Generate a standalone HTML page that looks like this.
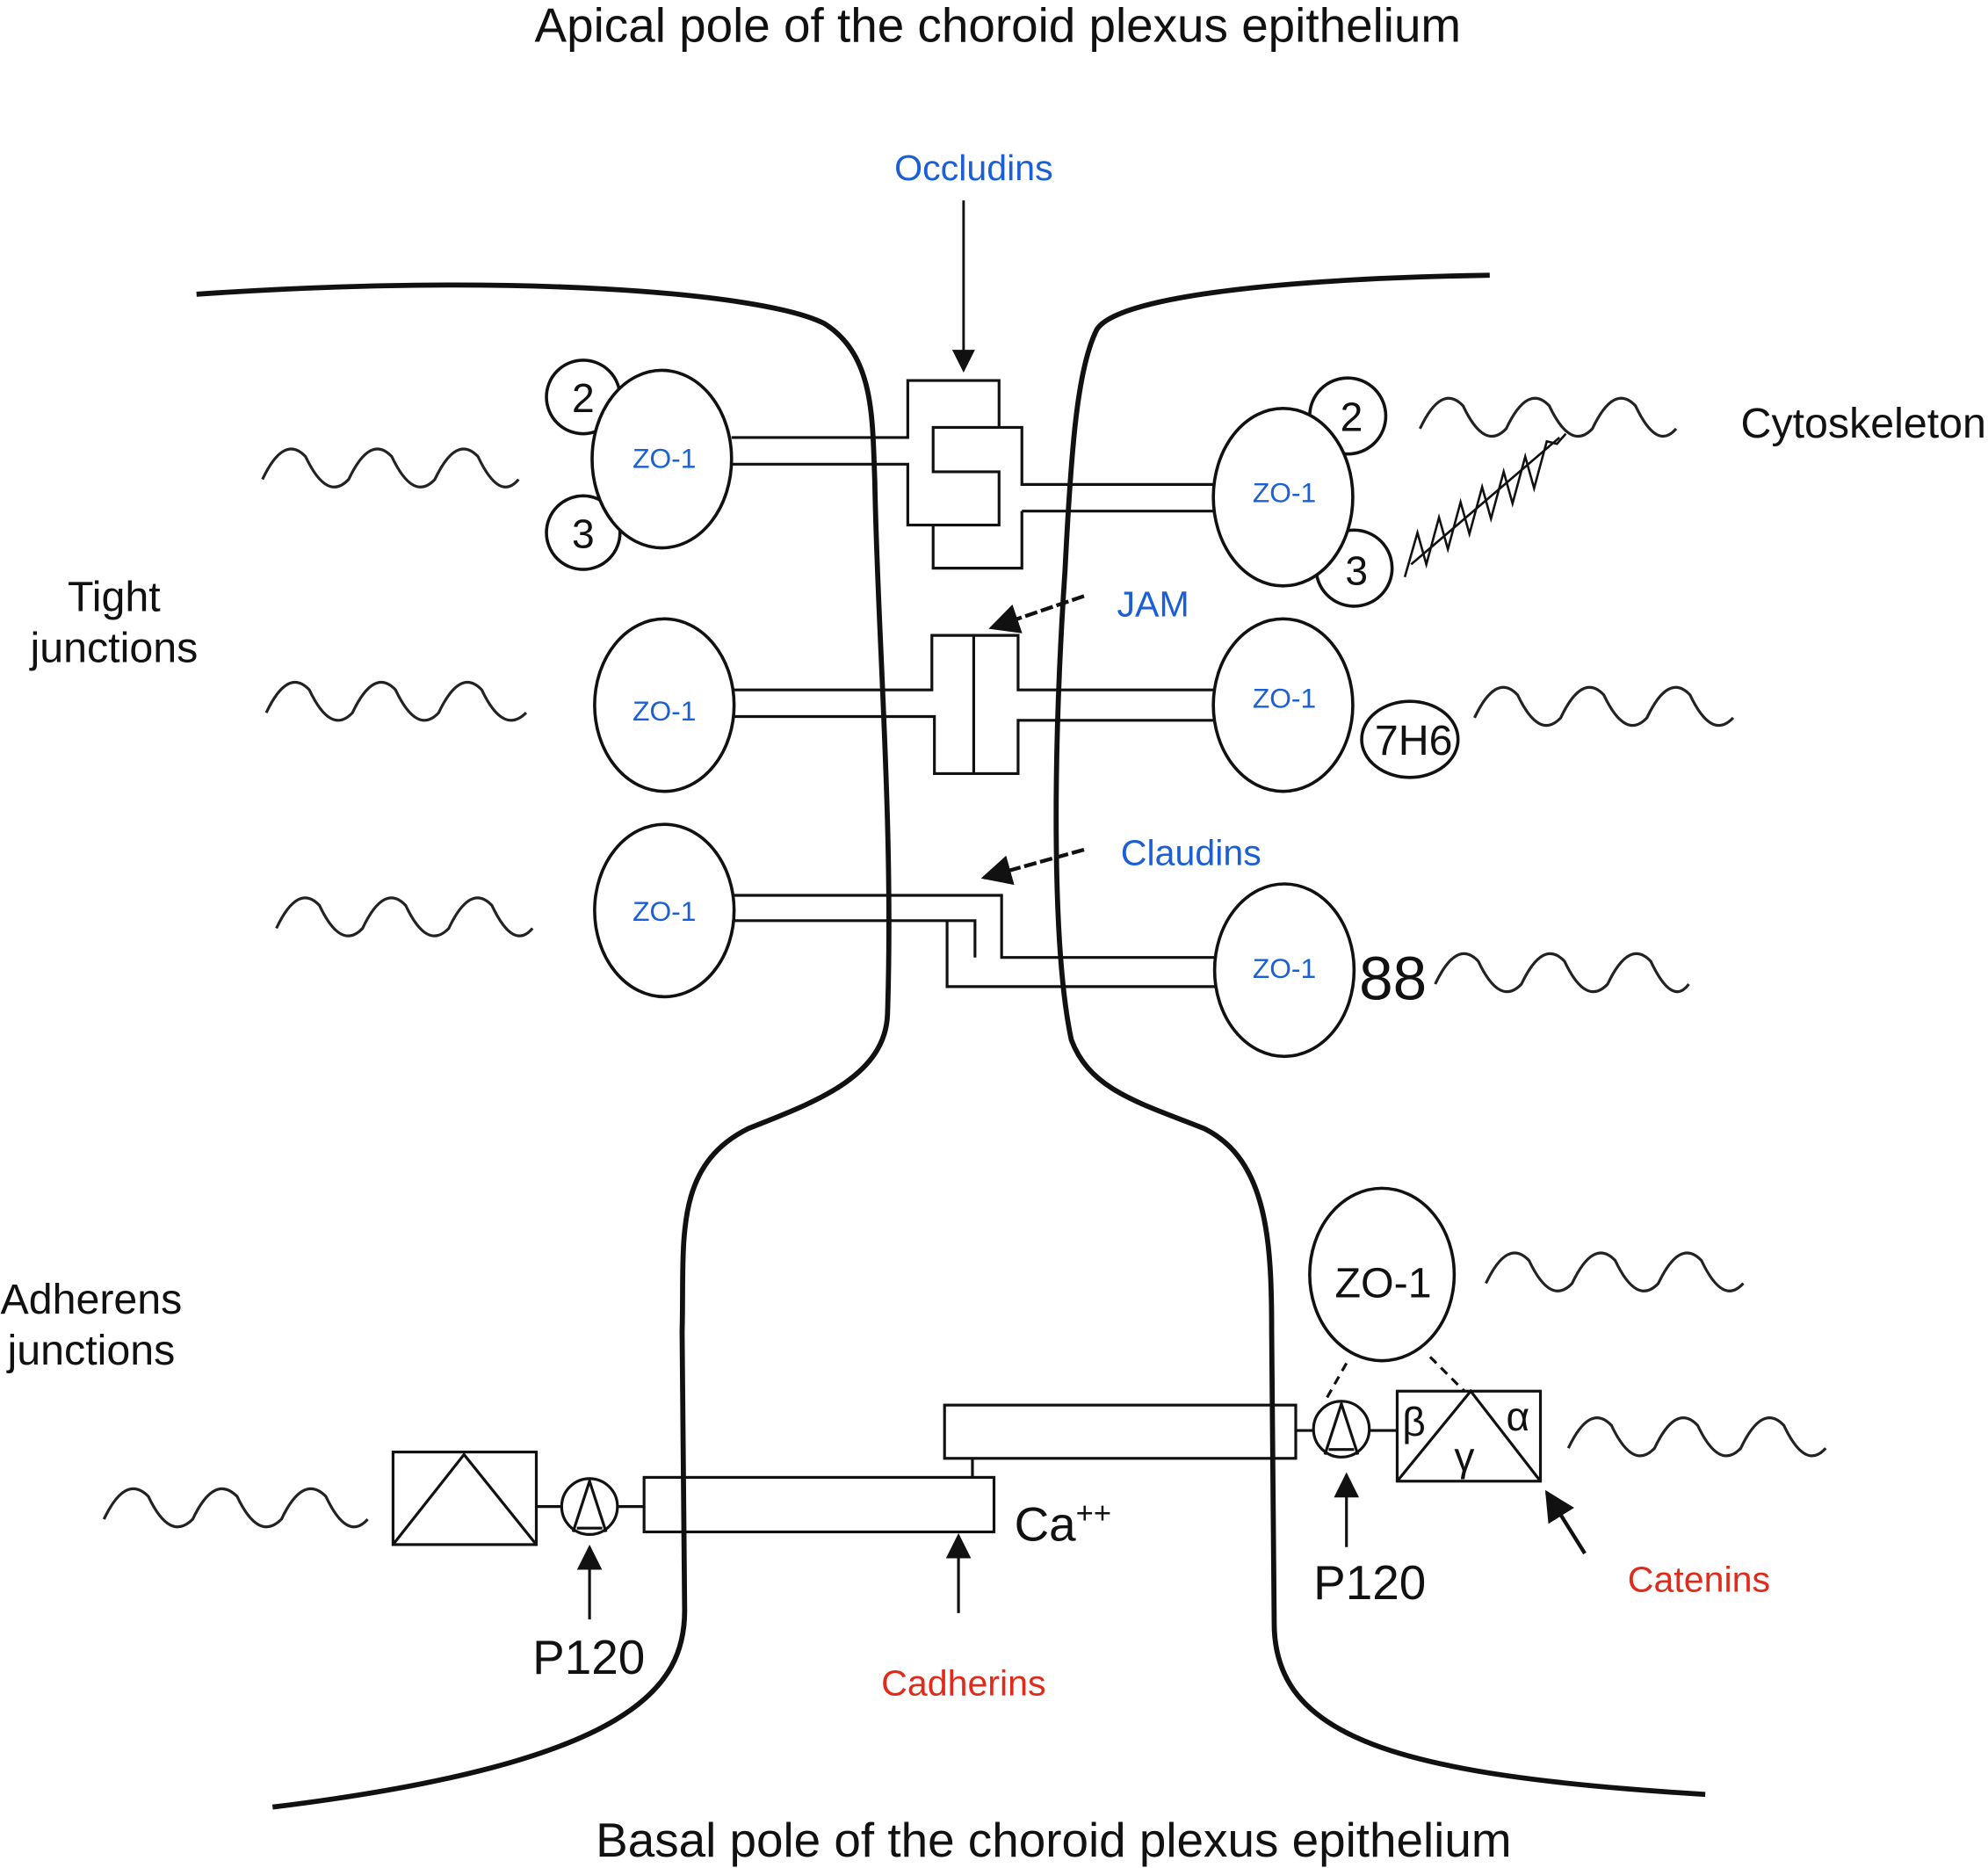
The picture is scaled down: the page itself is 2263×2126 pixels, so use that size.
<!DOCTYPE html>
<html><head><meta charset="utf-8"><style>
html,body{margin:0;padding:0;background:#fff}
svg{display:block}
text{font-family:"Liberation Sans",sans-serif}
.b{fill:#1a5fd6}
.r{fill:#e02a1a}
</style></head><body>
<svg width="2263" height="2126" viewBox="0 0 1568 1473" xmlns="http://www.w3.org/2000/svg">
<defs>
<marker id="ah" viewBox="0 0 10 10" refX="9" refY="5" markerWidth="8" markerHeight="8" orient="auto-start-reverse"><path d="M0,0L10,5L0,10z" fill="#111"/></marker>
<marker id="ah2" viewBox="0 0 10 10" refX="9" refY="5" markerWidth="9" markerHeight="9" orient="auto-start-reverse"><path d="M0,0L10,5L0,10z" fill="#111"/></marker>
</defs>
<g fill="none" stroke="#111">
<path stroke-width="4" d="M155,232 C400,215 600,230 650,255 C690,280 688,330 690,380 C692,500 705,650 700,800 C698,850 640,870 590,890 C530,920 540,980 538,1050 L540,1270 C540,1330 500,1390 215,1425"/>
<path stroke-width="4" d="M1175,217 C1000,220 880,235 865,260 C850,290 845,350 840,450 C830,600 830,750 845,820 C860,860 900,870 950,890 C1000,915 1003,980 1003,1050 L1005,1280 C1005,1370 1100,1400 1345,1415"/>
<g stroke-width="2.5">
<ellipse cx="460" cy="313" rx="29" ry="29"/>
<ellipse cx="460" cy="420" rx="29" ry="29"/>
<ellipse cx="1063" cy="328" rx="30" ry="30"/>
<ellipse cx="1068" cy="448" rx="30" ry="30"/>
<ellipse cx="522" cy="362" rx="55" ry="70" fill="#fff"/>
<ellipse cx="1012" cy="392" rx="55" ry="70" fill="#fff"/>
<ellipse cx="524" cy="556" rx="55" ry="68"/>
<ellipse cx="1012" cy="556" rx="55" ry="68"/>
<ellipse cx="524" cy="718" rx="55" ry="68"/>
<ellipse cx="1013" cy="765" rx="55" ry="68"/>
<ellipse cx="1112" cy="583" rx="38" ry="30"/>
<ellipse cx="1090" cy="1005" rx="57" ry="68"/>
</g>
<g stroke-width="2.2">
<path d="M577,345H716V300H788V337 M577,366H716V414H788V372H736V337H806V382H957 M806,403V448H736V414 M957,403H806"/>
<path d="M579,544H735V501H803V544H957 M579,565H737V610H803V568H957 M768,501V610"/>
<path d="M579,706H790V755H958 M579,726H769V755 M747,726V778H958"/>
<rect x="310" y="1145" width="113" height="73"/>
<path d="M310,1218L366,1147L423,1218"/>
<path d="M423,1188H443 M487,1188H508"/>
<circle cx="465" cy="1188" r="22"/>
<path d="M452,1208L465,1168L478,1208 M455,1205H475"/>
<rect x="508" y="1165" width="276" height="43"/>
<rect x="745" y="1108" width="277" height="42"/>
<path d="M767,1150V1165 M1022,1128H1036 M1080,1128H1102"/>
<circle cx="1058" cy="1127" r="22"/>
<path d="M1045,1147L1058,1107L1071,1147 M1048,1143H1068"/>
<rect x="1102" y="1097" width="113" height="71"/>
<path d="M1102,1168L1160,1097L1215,1168"/>
<path stroke-dasharray="7,5" d="M1062,1075L1045,1105 M1128,1070L1155,1097"/>
<path stroke-width="2" marker-end="url(#ah2)" d="M760,158V292"/>
<path stroke-width="3" stroke-dasharray="10,3" marker-end="url(#ah)" d="M855,470L782,495"/>
<path stroke-width="3" stroke-dasharray="10,3" marker-end="url(#ah)" d="M855,670L776,692"/>
<path stroke-width="2.2" marker-end="url(#ah2)" d="M465,1277V1220"/>
<path stroke-width="2.2" marker-end="url(#ah2)" d="M756,1272V1211"/>
<path stroke-width="2.2" marker-end="url(#ah2)" d="M1062,1220V1163"/>
<path stroke-width="3" marker-end="url(#ah)" d="M1250,1225L1220,1177"/>
<path stroke-width="1.8" d="M1108,455 L1118,420 L1125,445 L1135,408 L1142,433 L1152,396 L1159,421 L1169,384 L1176,409 L1186,372 L1193,397 L1203,360 L1210,385 L1220,348 L1228,350 L1235,342"/>
<path stroke-width="1.8" d="M1113,445 L1230,345"/>
</g>
<g stroke-width="2.2" stroke="#222">
<path d="M207,378 q17,-36 34,-18 q17,36 34,18 q17,-36 34,-18 q17,36 34,18 q17,-36 34,-18 q17,36 32,18"/>
<path d="M210,562 q17,-36 34,-18 q17,36 34,18 q17,-36 34,-18 q17,36 34,18 q17,-36 34,-18 q17,36 35,18"/>
<path d="M218,732 q17,-36 34,-18 q17,36 34,18 q17,-36 34,-18 q17,36 34,18 q17,-36 34,-18 q17,36 32,18"/>
<path d="M1120,338 q17,-36 34,-18 q17,36 34,18 q17,-36 34,-18 q17,36 34,18 q17,-36 34,-18 q17,36 32,18"/>
<path d="M1163,566 q17,-36 34,-18 q17,36 34,18 q17,-36 34,-18 q17,36 34,18 q17,-36 34,-18 q17,36 34,18"/>
<path d="M1132,776 q17,-36 34,-18 q17,36 34,18 q17,-36 34,-18 q17,36 34,18 q17,-36 34,-18 q17,36 30,18"/>
<path d="M1172,1012 q17,-36 34,-18 q17,36 34,18 q17,-36 34,-18 q17,36 34,18 q17,-36 34,-18 q17,36 33,18"/>
<path d="M1237,1142 q17,-36 34,-18 q17,36 34,18 q17,-36 34,-18 q17,36 34,18 q17,-36 34,-18 q17,36 33,18"/>
<path d="M82,1198 q17,-36 35,-18 q17,36 35,18 q17,-36 35,-18 q17,36 35,18 q17,-36 35,-18 q17,36 33,18"/>
</g>
</g>
<g font-size="38" fill="#111" text-anchor="middle">
<text x="787" y="33">Apical pole of the choroid plexus epithelium</text>
<text x="831" y="1464">Basal pole of the choroid plexus epithelium</text>
</g>
<g font-size="33.5" fill="#111">
<text x="90" y="482" text-anchor="middle">Tight</text>
<text x="90" y="522" text-anchor="middle">junctions</text>
<text x="72" y="1036" text-anchor="middle">Adherens</text>
<text x="72" y="1076" text-anchor="middle">junctions</text>
<text x="1373" y="345">Cytoskeleton</text>
<text x="1115" y="595" text-anchor="middle">7H6</text>
<text x="1091" y="1023" text-anchor="middle">ZO-1</text>
</g>
<g font-size="32" fill="#111" text-anchor="middle">
<text x="460" y="325">2</text>
<text x="460" y="432">3</text>
<text x="1066" y="340">2</text>
<text x="1070" y="461">3</text>
</g>
<g font-size="38" fill="#111">
<text x="420" y="1320">P120</text>
<text x="1036" y="1261">P120</text>
<text x="800" y="1215">Ca<tspan font-size="24" dy="-14">++</tspan></text>
</g>
<text x="1072" y="788" font-size="48" fill="#111">88</text>
<g font-family="Liberation Serif" font-size="32" fill="#111">
<text x="1106" y="1132">β</text>
<text x="1188" y="1128">α</text>
<text x="1147" y="1160">γ</text>
</g>
<g font-size="28.5">
<text class="b" x="768" y="142" text-anchor="middle">Occludins</text>
<text class="b" x="881" y="486">JAM</text>
<text class="b" x="884" y="682">Claudins</text>
<text class="r" x="760" y="1337" text-anchor="middle">Cadherins</text>
<text class="r" x="1340" y="1255" text-anchor="middle">Catenins</text>
</g>
<g font-size="22" class="b" text-anchor="middle">
<text x="524" y="369">ZO-1</text>
<text x="1013" y="396">ZO-1</text>
<text x="524" y="568">ZO-1</text>
<text x="1013" y="558">ZO-1</text>
<text x="524" y="726">ZO-1</text>
<text x="1013" y="771">ZO-1</text>
</g>
</svg>
</body></html>
